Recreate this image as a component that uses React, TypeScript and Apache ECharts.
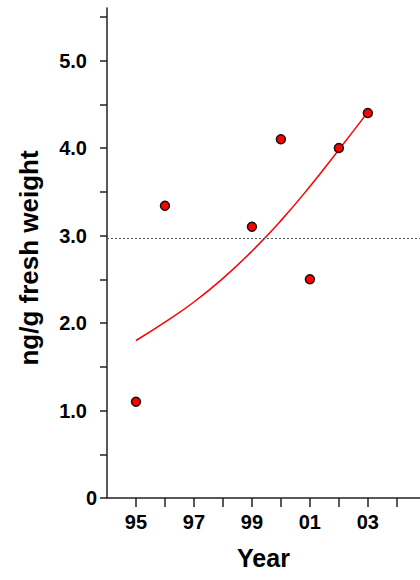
import React, { useEffect, useRef } from "react";
import * as echarts from "echarts";

const years = [95, 96, 99, 100, 101, 102, 103];
const values = [1.1, 3.34, 3.1, 4.1, 2.5, 4.0, 4.4];
const fitYears = [95, 96, 97, 98, 99, 100, 101, 102, 103];
const fitValues = [1.8, 2.01, 2.24, 2.51, 2.82, 3.17, 3.56, 3.98, 4.41];
const meanValue = 2.97;
const xTicks = [95, 96, 97, 98, 99, 100, 101, 102, 103, 104];
const xLabels = [95, 97, 99, 101, 103];
const yTicks = [0, 0.5, 1, 1.5, 2, 2.5, 3, 3.5, 4, 4.5, 5, 5.5];
const yLabels = [0, 1, 2, 3, 4, 5];

const FONT = "'Liberation Sans', Arial, sans-serif";

export default function App() {
  const ref = useRef<HTMLDivElement>(null);
  useEffect(() => {
    if (!ref.current) return;
    const chart = echarts.init(ref.current, undefined, { renderer: "svg" });
    const axisLine = { show: true, lineStyle: { color: "#222", width: 1.5 } };
    const labelText = { fontFamily: FONT, fontWeight: "bold", fontSize: 20, color: "#000" };
    chart.setOption({
      animation: false,
      grid: { left: 107, right: 0, top: 8, bottom: 82, containLabel: false },
      xAxis: {
        type: "value",
        min: 94,
        max: 104.8,
        name: "Year",
        nameLocation: "middle",
        nameGap: 47,
        nameTextStyle: { fontFamily: FONT, fontWeight: "bold", fontSize: 25, color: "#000" },
        axisLine,
        axisTick: { show: true, length: 9, lineStyle: { color: "#222", width: 1.5 }, customValues: xTicks },
        axisLabel: {
          customValues: xLabels,
          margin: 14,
          ...labelText,
          formatter: (v: number) => String(Math.round(v) % 100).padStart(2, "0"),
        },
        splitLine: { show: false },
      },
      yAxis: {
        type: "value",
        min: 0,
        max: 5.6,
        name: "ng/g fresh weight",
        nameLocation: "middle",
        nameGap: 65,
        nameRotate: 90,
        nameTextStyle: { fontFamily: FONT, fontWeight: "bold", fontSize: 26, color: "#000", padding: [0, 10, 0, 0] },
        axisLine,
        axisTick: { show: true, length: 7, lineStyle: { color: "#222", width: 1.5 }, customValues: yTicks },
        axisLabel: {
          customValues: yLabels,
          margin: 10,
          ...labelText,
          formatter: (v: number) => (v === 0 ? "{z|0}" : "{a|" + v.toFixed(1) + "}"),
          rich: {
            a: { ...labelText, padding: [0, 10, 0, 0] },
            z: { ...labelText },
          },
        },
        splitLine: { show: false },
      },
      series: [
        {
          type: "line",
          data: fitYears.map((y, i) => [y, fitValues[i]]),
          smooth: 0.5,
          showSymbol: false,
          symbol: "none",
          lineStyle: { color: "#ff0000", width: 1.5 },
          z: 2,
        },
        {
          type: "scatter",
          data: years.map((y, i) => [y, values[i]]),
          symbol: "circle",
          symbolSize: 9,
          itemStyle: { color: "#ff0000", borderColor: "#111", borderWidth: 1.5, opacity: 1 },
          z: 3,
          markLine: {
            silent: true,
            symbol: "none",
            label: { show: false },
            lineStyle: { color: "#555", type: [2, 2], width: 1 },
            data: [{ yAxis: meanValue }],
          },
        },
      ],
    });
    return () => chart.dispose();
  }, []);
  return <div ref={ref} style={{ width: 420, height: 580, position: "absolute", left: 0, top: 0 }} />;
}
